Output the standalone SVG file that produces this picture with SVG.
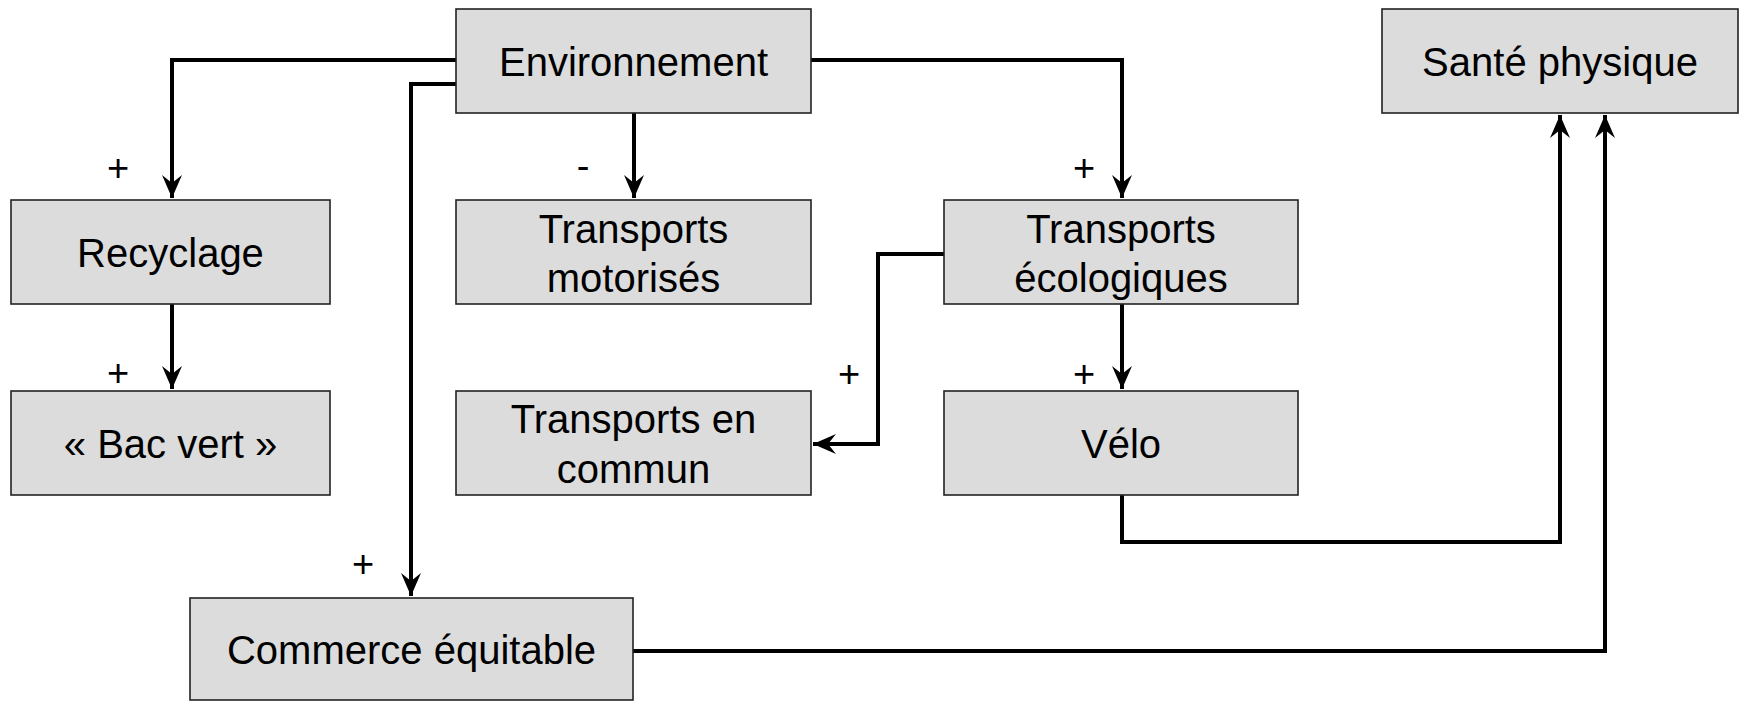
<svg xmlns="http://www.w3.org/2000/svg" width="1743" height="702" viewBox="0 0 1743 702">
<style>
.box{fill:#dcdcdc;stroke:#222;stroke-width:1.6}
.t{font-family:"Liberation Sans",Arial,sans-serif;font-size:40px;fill:#000;text-anchor:middle}
.s{font-family:"Liberation Sans",Arial,sans-serif;font-size:38px;fill:#000;text-anchor:middle}
.c{fill:none;stroke:#000;stroke-width:4;stroke-linejoin:miter}
</style>
<defs>
<marker id="ah" markerUnits="userSpaceOnUse" viewBox="-24 -12 26 24" refX="0" refY="0" markerWidth="26" markerHeight="24" orient="auto">
<path d="M0,0 L-23,-10 L-15,0 L-23,10 Z" fill="#000"/>
</marker>
</defs>
<rect width="1743" height="702" fill="#fff"/>
<g id="connectors">
<path class="c" d="M456,60 H172 V198" marker-end="url(#ah)"/>
<path class="c" d="M456,84 H411 V596" marker-end="url(#ah)"/>
<path class="c" d="M634,113 V198" marker-end="url(#ah)"/>
<path class="c" d="M811,60 H1122 V198" marker-end="url(#ah)"/>
<path class="c" d="M944,254 H878 V444 H813" marker-end="url(#ah)"/>
<path class="c" d="M1122,304 V389" marker-end="url(#ah)"/>
<path class="c" d="M172,304 V389" marker-end="url(#ah)"/>
<path class="c" d="M1122,495 V542 H1560 V115" marker-end="url(#ah)"/>
<path class="c" d="M633,651 H1605 V115" marker-end="url(#ah)"/>
</g>
<g id="labels">
<text class="s" x="118" y="181">+</text>
<text class="s" x="583" y="179">-</text>
<text class="s" x="1084" y="181">+</text>
<text class="s" x="118" y="386">+</text>
<text class="s" x="849" y="387">+</text>
<text class="s" x="1084" y="387">+</text>
<text class="s" x="363" y="577">+</text>
</g>
<g id="environnement">
<rect class="box" x="456" y="9" width="355" height="104"/>
<text class="t" x="633.5" y="76">Environnement</text>
</g>
<g id="sante">
<rect class="box" x="1382" y="9" width="356" height="104"/>
<text class="t" x="1560" y="76">Santé physique</text>
</g>
<g id="recyclage">
<rect class="box" x="11" y="200" width="319" height="104"/>
<text class="t" x="170.5" y="267">Recyclage</text>
</g>
<g id="motorises">
<rect class="box" x="456" y="200" width="355" height="104"/>
<text class="t" x="633.5" y="243">Transports</text>
<text class="t" x="633.5" y="292">motorisés</text>
</g>
<g id="ecologiques">
<rect class="box" x="944" y="200" width="354" height="104"/>
<text class="t" x="1121" y="243">Transports</text>
<text class="t" x="1121" y="292">écologiques</text>
</g>
<g id="bacvert">
<rect class="box" x="11" y="391" width="319" height="104"/>
<text class="t" x="170.5" y="458">« Bac vert »</text>
</g>
<g id="commun">
<rect class="box" x="456" y="391" width="355" height="104"/>
<text class="t" x="633.5" y="433">Transports en</text>
<text class="t" x="633.5" y="483">commun</text>
</g>
<g id="velo">
<rect class="box" x="944" y="391" width="354" height="104"/>
<text class="t" x="1121" y="458">Vélo</text>
</g>
<g id="commerce">
<rect class="box" x="190" y="598" width="443" height="102"/>
<text class="t" x="411.5" y="664">Commerce équitable</text>
</g>
</svg>
